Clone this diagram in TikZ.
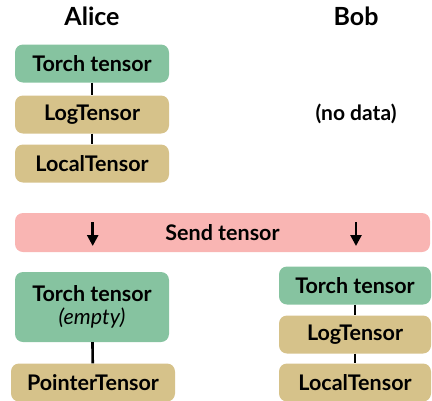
\documentclass[tikz,border=0pt]{standalone}
\usepackage{fontspec}
\setmainfont{Lato}
\usetikzlibrary{arrows.meta}
\definecolor{tgreen}{HTML}{86C3A0}
\definecolor{ttan}{HTML}{D6C28A}
\definecolor{tpink}{HTML}{F9B5B3}
\begin{document}
\begin{tikzpicture}[x=1pt,y=-1pt,
  box/.style={rounded corners=8pt, minimum width=154pt, minimum height=38pt,
    inner sep=0pt, align=center, font=\fontsize{21.5}{24}\selectfont\bfseries},
  torch/.style={box, fill=tgreen},
  layer/.style={box, fill=ttan},
  link/.style={line width=2.6pt, black},
  drop/.style={line width=2.6pt, black, -{Triangle[length=11pt,width=11pt]}},
  title/.style={font=\fontsize{25}{28}\selectfont\bfseries}]
\useasboundingbox (0,0) rectangle (432,400);

% column headings
\node[title] (alice) at (92,16) {Alice};
\node[title] (bob) at (356,16) {Bob};

% Alice before sending
\node[torch] (at1) at (92,63.5) {Torch tensor};
\node[layer] (al1) at (92,114.5) {LogTensor};
\node[layer] (ac1) at (92,163.5) {LocalTensor};
\draw[link] (at1) -- (al1);
\draw[link] (al1) -- (ac1);

% Bob before sending
\node[font=\fontsize{21}{24}\selectfont\bfseries] (nodata) at (356,114) {(no data)};

% send step
\node[box, fill=tpink, minimum width=415pt, minimum height=39pt] (send) at (222.5,232.5) {Send tensor};
\coordinate (s1) at (92.7,222);
\coordinate (e1) at (92.7,246);
\coordinate (s2) at (356,222);
\coordinate (e2) at (356,246);
\draw[drop] (s1) -- (e1);
\draw[drop] (s2) -- (e2);

% Alice after sending
\node[torch, minimum height=70pt] (at2) at (92,307) {Torch tensor\\[-1pt]{\mdseries\itshape(empty)}};
\node[layer, minimum width=164pt] (ap2) at (93,382.5) {PointerTensor};
\draw[link] (at2) -- (ap2);

% Bob after sending
\node[torch, minimum width=152pt] (bt2) at (355,285.5) {Torch tensor};
\node[layer, minimum width=152pt] (bl2) at (355,334.5) {LogTensor};
\node[layer, minimum width=152pt] (bc2) at (355,382.5) {LocalTensor};
\draw[link] (bt2) -- (bl2);
\draw[link] (bl2) -- (bc2);
\end{tikzpicture}
\end{document}
